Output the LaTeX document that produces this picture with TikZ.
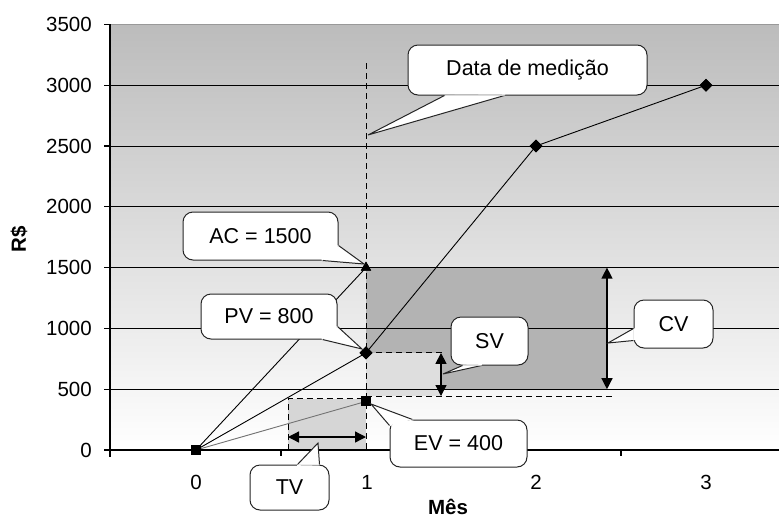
\documentclass[tikz,border=0pt]{standalone}
\usepackage{fontspec}
\setmainfont{Liberation Sans}
\usetikzlibrary{arrows.meta,calc,shapes.geometric}
\definecolor{cvgray}{RGB}{179,179,179}
\definecolor{svgray}{RGB}{222,222,222}
\definecolor{tvgray}{RGB}{214,214,214}
\definecolor{bgtop}{RGB}{188,188,188}
\newcommand\chartfont{\fontsize{20.5}{24}\selectfont}
\newcommand\bubfont{\fontsize{21.5}{25}\selectfont}
\newcommand\bubptr[4]{%
  \draw[bubline, fill=white] (#2) -- (#4) -- (#3);
  \fill[white] (#2) -- (#3) -- ($(#3)!1.4pt!(#1.center)$) -- ($(#2)!1.4pt!(#1.center)$) -- cycle;
}
\tikzset{
  gridline/.style={black, line width=1pt},
  axisline/.style={black, line width=1.3pt},
  dline/.style={black, line width=1pt, dash pattern=on 6pt off 4pt},
  dbl/.style={{Triangle[length=11pt,width=11pt]}-{Triangle[length=11pt,width=11pt]}, line width=1.3pt},
  series/.style={black, line width=0.9pt},
  bubline/.style={draw=black!85, line width=1pt},
  bubble/.style={bubline, fill=white, rounded corners=10pt, inner sep=0pt, font=\bubfont},
  sqmark/.style={rectangle, fill=black, minimum size=10pt, inner sep=0pt},
  dmmark/.style={diamond, fill=black, minimum size=13pt, inner sep=0pt},
  trimark/.style={regular polygon, regular polygon sides=3, fill=black, minimum size=12pt, inner sep=0pt},
  ticklab/.style={font=\chartfont, inner sep=0pt},
}
\begin{document}
\begin{tikzpicture}[x=1pt,y=-1pt]
\useasboundingbox (0,0) rectangle (779,520);
% background of plot area
\shade[top color=bgtop, bottom color=white] (110,24.4) rectangle (779,450);
% shaded variance areas
\fill[cvgray] (366,267.6) rectangle (607,389.2);
\fill[svgray] (366,352.9) rectangle (442,396);
\fill[tvgray] (288,398.5) rectangle (366,450);
% grid lines
\foreach \yy in {85.2,146,206.8,267.6,328.4,389.2}
  \draw[gridline] (110,\yy) -- (779,\yy);
\draw[black!40, line width=1pt] (110,24.4) -- (779,24.4);
% axes
\draw[axisline] (110,24.4) -- (110,457);
\draw[axisline] (110,450) -- (779,450);
\foreach \yy in {24.4,85.2,146,206.8,267.6,328.4,389.2,450}
  \draw[axisline] (104,\yy) -- (110,\yy);
\foreach \xx in {281,451,621}
  \draw[axisline] (\xx,450) -- (\xx,456);
% tick labels
\node[ticklab, anchor=east] (y0) at (92,450) {0};
\node[ticklab, anchor=east] (y500) at (92,389.2) {500};
\node[ticklab, anchor=east] (y1000) at (92,328.4) {1000};
\node[ticklab, anchor=east] (y1500) at (92,267.6) {1500};
\node[ticklab, anchor=east] (y2000) at (92,206.8) {2000};
\node[ticklab, anchor=east] (y2500) at (92,146) {2500};
\node[ticklab, anchor=east] (y3000) at (92,85.2) {3000};
\node[ticklab, anchor=east] (y3500) at (92,24.4) {3500};
\node[ticklab] (x0) at (196,482) {0};
\node[ticklab] (x1) at (367,482) {1};
\node[ticklab] (x2) at (536,482) {2};
\node[ticklab] (x3) at (706,482) {3};
\node[ticklab, font=\chartfont\bfseries, rotate=90] (ylab) at (19,239) {R\$};
\node[ticklab, font=\chartfont\bfseries] (xlab) at (448,507) {Mês};
% measurement date line and dashed guides
\coordinate (dtop) at (366,63);
\coordinate (dbot) at (366,450);
\draw[dline] (dtop) -- (dbot);
\coordinate (svtl) at (366,352.9);
\coordinate (svtr) at (445,352.9);
\draw[dline] (svtl) -- (svtr);
\coordinate (svbl) at (366,396);
\coordinate (svbr) at (612,396);
\draw[dline] (svbl) -- (svbr);
\coordinate (tvtl) at (288,398.5);
\coordinate (tvtr) at (366,398.5);
\coordinate (tvbl) at (288,450);
\draw[dline] (tvbl) -- (tvtl) -- (tvtr);
% variance arrows
\coordinate (cvt) at (607,267.6);
\coordinate (cvb) at (607,389.2);
\draw[dbl] (cvt) -- (cvb);
\coordinate (svt) at (441,352.9);
\coordinate (svb) at (441,396);
\draw[dbl] (svt) -- (svb);
\coordinate (tvl) at (288,437);
\coordinate (tvr) at (366,437);
\draw[dbl] (tvl) -- (tvr);
% data points
\node[sqmark] (p0) at (196,450) {};
\node[dmmark] (pv1) at (366,352.9) {};
\node[dmmark] (pv2) at (536,146) {};
\node[dmmark] (pv3) at (706,85.2) {};
\node[trimark] (ac1) at (366,267.6) {};
\node[sqmark] (ev1) at (366,401.4) {};
% series lines
\draw[series] (p0.center) -- (pv1.center) -- (pv2.center) -- (pv3.center);
\draw[series] (p0.center) -- (ac1.center);
\draw[series, black!55] (p0.center) -- (ev1.center);
\node[sqmark] at (p0) {};
\node[dmmark] at (pv1) {};
\node[dmmark] at (pv2) {};
\node[dmmark] at (pv3) {};
\node[trimark] at (ac1) {};
\node[sqmark] at (ev1) {};
% callouts
\node[bubble, minimum width=239pt, minimum height=50pt] (dm) at (527.5,70) {Data de medição};
\coordinate (dmb1) at ($(dm.south west)+(37,0)$);
\coordinate (dmb2) at ($(dm.south west)+(97,0)$);
\coordinate (dmtip) at (368,135);
\bubptr{dm}{dmb1}{dmb2}{dmtip}

\node[bubble, minimum width=155pt, minimum height=48pt] (ac) at (260.5,236) {AC = 1500};
\coordinate (acb1) at ($(ac.south east)+(0,-15)$);
\coordinate (acb2) at ($(ac.south east)+(-16,0)$);
\coordinate (actip) at (364,264);
\bubptr{ac}{acb1}{acb2}{actip}

\node[bubble, minimum width=136pt, minimum height=45pt] (pv) at (269,316.5) {PV = 800};
\coordinate (pvb1) at ($(pv.south east)+(0,-13)$);
\coordinate (pvb2) at ($(pv.south east)+(-15,0)$);
\coordinate (pvtip) at (362,349);
\bubptr{pv}{pvb1}{pvb2}{pvtip}

\node[bubble, minimum width=77pt, minimum height=48pt] (sv) at (489.5,341) {SV};
\coordinate (svb1) at ($(sv.south west)+(12,0)$);
\coordinate (svb2) at ($(sv.south west)+(31,0)$);
\coordinate (svtip) at (443,374);
\bubptr{sv}{svb1}{svb2}{svtip}

\node[bubble, minimum width=79pt, minimum height=48pt] (cv) at (673.5,324) {CV};
\coordinate (cvb1) at ($(cv.south west)+(0,-20)$);
\coordinate (cvb2) at ($(cv.south west)+(0,-8)$);
\coordinate (cvtip) at (608,343);
\bubptr{cv}{cvb1}{cvb2}{cvtip}

\node[bubble, minimum width=137pt, minimum height=47pt] (ev) at (458.5,443.5) {EV = 400};
\coordinate (evb1) at ($(ev.north west)+(0,6)$);
\coordinate (evb2) at ($(ev.north west)+(23,0)$);
\coordinate (evtip) at (371,404);
\bubptr{ev}{evb1}{evb2}{evtip}

\node[bubble, minimum width=79pt, minimum height=45pt] (tv) at (289.5,487.5) {TV};
\coordinate (tvb1) at ($(tv.north west)+(48,0)$);
\coordinate (tvb2) at ($(tv.north west)+(70,0)$);
\coordinate (tvtip) at (318,443);
\bubptr{tv}{tvb1}{tvb2}{tvtip}
\end{tikzpicture}
\end{document}
